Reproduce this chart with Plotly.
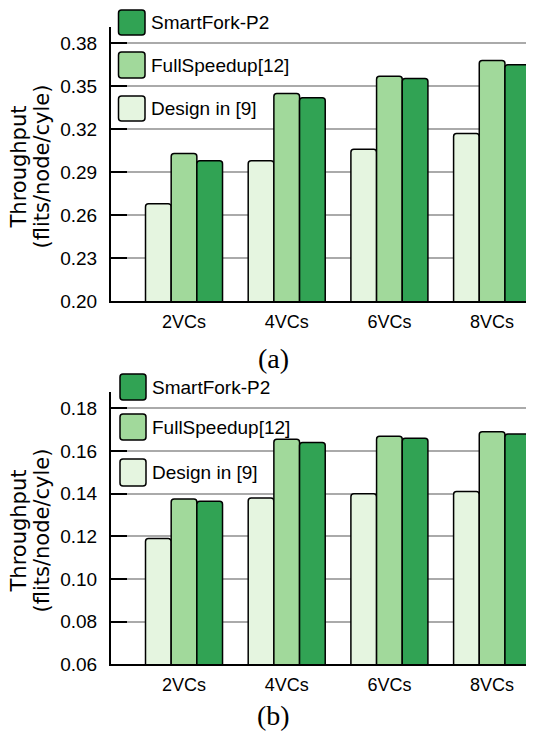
import plotly.graph_objects as go

categories = ["2VCs", "4VCs", "6VCs", "8VCs"]
series_names = ["Design in [9]", "FullSpeedup[12]", "SmartFork-P2"]
series_colors = ["#e5f5e0", "#a1d99b", "#31a354"]

a_design = [0.268, 0.298, 0.306, 0.317]
a_full = [0.303, 0.345, 0.357, 0.368]
a_smart = [0.298, 0.342, 0.3555, 0.365]

b_design = [0.119, 0.138, 0.140, 0.141]
b_full = [0.1375, 0.1655, 0.167, 0.169]
b_smart = [0.1365, 0.164, 0.166, 0.168]

a_ticks = [0.20, 0.23, 0.26, 0.29, 0.32, 0.35, 0.38]
b_ticks = [0.06, 0.08, 0.10, 0.12, 0.14, 0.16, 0.18]

# The page body has an 8px margin, so the figure is drawn 8px smaller
# and all layout pixel positions below are given in window coordinates.
OFF = 8
W, H = 534 - OFF, 733 - OFF
FONT = "Liberation Sans, Arial, sans-serif"


def px(x):
    return (x - OFF) / W


def py(y):
    return 1 - (y - OFF) / H


fig = go.Figure()
for vals, yaxis, xaxis in [((a_design, a_full, a_smart), "y", "x"),
                           ((b_design, b_full, b_smart), "y2", "x2")]:
    for name, color, v in zip(series_names, series_colors, vals):
        fig.add_trace(go.Bar(
            x=categories, y=v, name=name, yaxis=yaxis, xaxis=xaxis,
            marker=dict(color=color, line=dict(color="black", width=1.5), cornerradius=3),
            showlegend=False,
        ))

axis_common = dict(showline=True, linecolor="black", linewidth=2, zeroline=False)
xcommon = dict(domain=[px(111), px(534)], range=[-0.711, 3.408], showgrid=False,
               ticks="", ticklabelstandoff=3, tickfont=dict(size=18), **axis_common)
ycommon = dict(ticks="inside", ticklen=16, tickwidth=2, tickcolor="black",
               showgrid=True, gridcolor="#aaaaaa", gridwidth=1.5, ticklabelstandoff=8,
               tickfont=dict(size=19), **axis_common)
fig.update_layout(
    width=W, height=H,
    margin=dict(l=0, r=0, t=0, b=0, autoexpand=False),
    paper_bgcolor="white", plot_bgcolor="white",
    barmode="group", bargap=0.25, bargroupgap=0,
    font=dict(family=FONT, color="black"),
    xaxis=dict(anchor="y", **xcommon),
    xaxis2=dict(anchor="y2", **xcommon),
    yaxis=dict(domain=[py(301), py(27)], range=[0.20, 0.3914], anchor="x",
               tickvals=a_ticks, ticktext=[f"{t:.2f}" for t in a_ticks], **ycommon),
    yaxis2=dict(domain=[py(664.3), py(392)], range=[0.06, 0.1877], anchor="x2",
                tickvals=b_ticks, ticktext=[f"{t:.2f}" for t in b_ticks], **ycommon),
)


def rounded_rect(x0, y0, x1, y1, r=3):
    X = lambda v: f"{px(v):.5f}"
    Y = lambda v: f"{py(v):.5f}"
    return (f"M {X(x0 + r)} {Y(y0)} L {X(x1 - r)} {Y(y0)} Q {X(x1)} {Y(y0)} {X(x1)} {Y(y0 + r)} "
            f"L {X(x1)} {Y(y1 - r)} Q {X(x1)} {Y(y1)} {X(x1 - r)} {Y(y1)} "
            f"L {X(x0 + r)} {Y(y1)} Q {X(x0)} {Y(y1)} {X(x0)} {Y(y1 - r)} "
            f"L {X(x0)} {Y(y0 + r)} Q {X(x0)} {Y(y0)} {X(x0 + r)} {Y(y0)} Z")


legend_rows = {
    "a": [(10, 35), (52, 78), (96, 121)],
    "b": [(374, 400), (414, 440), (459, 486)],
}
legend_x = {"a": (118.5, 145), "b": (120, 146)}
shapes = []
annotations = []
for panel in ["a", "b"]:
    x0, x1 = legend_x[panel]
    order = list(reversed(range(len(series_names))))
    for (y0, y1), i in zip(legend_rows[panel], order):
        shapes.append(dict(type="path", xref="paper", yref="paper",
                           path=rounded_rect(x0, y0, x1, y1),
                           fillcolor=series_colors[i], line=dict(color="black", width=1.5)))
        annotations.append(dict(xref="paper", yref="paper", x=px(x1 + 4), y=py((y0 + y1) / 2),
                                text=series_names[i], showarrow=False, xanchor="left",
                                yanchor="middle", font=dict(size=19, family=FONT, color="black")))

title_lines = ["Throughput", "(flits/node/cyle)"]
title_x = [18.5, 41.5]
for yc in [167, 531]:
    for line, xc in zip(title_lines, title_x):
        annotations.append(dict(xref="paper", yref="paper", x=px(xc), y=py(yc),
                                text=line, showarrow=False,
                                textangle=-90, xanchor="center", yanchor="middle",
                                font=dict(size=21, family="DejaVu Sans, sans-serif",
                                          color="black")))

for label, yc in [("(a)", 358), ("(b)", 715)]:
    annotations.append(dict(xref="paper", yref="paper", x=px(273), y=py(yc),
                            text=label, showarrow=False, xanchor="center", yanchor="middle",
                            font=dict(size=28, family="Liberation Serif, DejaVu Serif, serif",
                                      color="black")))

fig.update_layout(shapes=shapes, annotations=annotations)
fig.write_html("out.html")
